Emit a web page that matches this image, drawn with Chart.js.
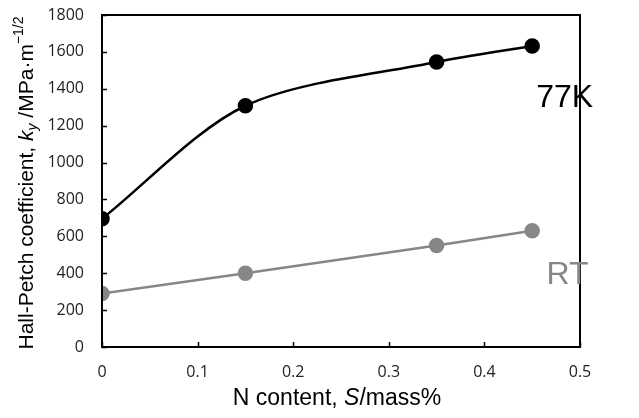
<!DOCTYPE html>
<html>
<head>
<meta charset="utf-8">
<script src="https://cdn.jsdelivr.net/npm/chart.js@4"></script>
<style>
  html, body { margin: 0; padding: 0; background: #fff; }
  #wrap { width: 639px; height: 418px; }
</style>
</head>
<body>
<div id="wrap"><canvas id="hp"></canvas></div>
<script>
// data
var N_CONTENT = [0, 0.15, 0.35, 0.45];
var KY_77K    = [695, 1308, 1545, 1632];
var KY_RT     = [290, 400, 550, 630];
var X_TICKS   = [0, 0.1, 0.2, 0.3, 0.4, 0.5];
var Y_TICKS   = [0, 200, 400, 600, 800, 1000, 1200, 1400, 1600, 1800];

var BLACK = '#000000';
var GREY  = '#878787';
var LABEL_FONT = '"Liberation Sans", Arial, sans-serif';

function pts(xs, ys) {
  return xs.map(function (x, i) { return { x: x, y: ys[i] }; });
}

// frame, inward ticks, axis titles and series labels
var decor = {
  id: 'decor',
  afterDraw: function (c) {
    var ctx = c.ctx, a = c.chartArea;
    var xs = c.scales.x, ys = c.scales.y;
    ctx.save();
    ctx.strokeStyle = BLACK;
    ctx.lineWidth = 2;
    ctx.strokeRect(a.left, a.top, a.right - a.left, a.bottom - a.top);
    ctx.beginPath();
    Y_TICKS.forEach(function (v) {
      var py = Math.round(ys.getPixelForValue(v)) + 0.5;
      ctx.moveTo(a.left, py); ctx.lineTo(a.left + 5, py);
    });
    X_TICKS.forEach(function (v) {
      var px = Math.round(xs.getPixelForValue(v)) + 0.5;
      ctx.moveTo(px, a.bottom); ctx.lineTo(px, a.bottom - 5);
    });
    ctx.lineWidth = 1.5;
    ctx.stroke();

    // x title: N content, S/mass%
    ctx.fillStyle = BLACK;
    ctx.textBaseline = 'middle';
    var xParts = [
      { t: 'N content, ', f: '23px ' + LABEL_FONT },
      { t: 'S', f: 'italic 23px ' + LABEL_FONT },
      { t: '/mass%', f: '23px ' + LABEL_FONT }
    ];
    var w = 0;
    xParts.forEach(function (p) { ctx.font = p.f; w += ctx.measureText(p.t).width; });
    var cx = 337 - w / 2;
    xParts.forEach(function (p) {
      ctx.font = p.f; ctx.textAlign = 'left';
      ctx.fillText(p.t, cx, 399);
      cx += ctx.measureText(p.t).width;
    });

    // y title (rotated)
    ctx.save();
    ctx.translate(27, 183);
    ctx.rotate(-Math.PI / 2);
    var yParts = [
      { t: 'Hall-Petch coefficient, ', f: '21px ' + LABEL_FONT, dy: 0 },
      { t: 'k', f: 'italic 21px ' + LABEL_FONT, dy: 0 },
      { t: 'y', f: 'italic 14px ' + LABEL_FONT, dy: 6 },
      { t: ' /MPa\u00b7m', f: '21px ' + LABEL_FONT, dy: 0 },
      { t: '\u22121/2', f: '14px ' + LABEL_FONT, dy: -8 }
    ];
    w = 0;
    yParts.forEach(function (p) { ctx.font = p.f; w += ctx.measureText(p.t).width; });
    var tx = -w / 2;
    yParts.forEach(function (p) {
      ctx.font = p.f; ctx.textAlign = 'left';
      ctx.fillText(p.t, tx, p.dy);
      tx += ctx.measureText(p.t).width;
    });
    ctx.restore();

    // series labels
    ctx.font = '32px ' + LABEL_FONT;
    ctx.textAlign = 'center';
    ctx.fillStyle = BLACK;
    ctx.fillText('77K', xs.getPixelForValue(0.484), ys.getPixelForValue(1350));
    ctx.fillStyle = GREY;
    ctx.fillText('RT', xs.getPixelForValue(0.487), ys.getPixelForValue(390));
    ctx.restore();
  }
};

new Chart(document.getElementById('hp'), {
  type: 'scatter',
  data: {
    datasets: [
      {
        label: '77K', data: pts(N_CONTENT, KY_77K), showLine: true,
        borderColor: BLACK, backgroundColor: BLACK, borderWidth: 2.5,
        pointRadius: 6.5, pointHoverRadius: 6.5, tension: 0.3
      },
      {
        label: 'RT', data: pts(N_CONTENT, KY_RT), showLine: true,
        borderColor: GREY, backgroundColor: GREY, borderWidth: 2.5,
        pointRadius: 6.5, pointHoverRadius: 6.5, tension: 0
      }
    ]
  },
  options: {
    responsive: true,
    maintainAspectRatio: false,
    animation: false,
    layout: { autoPadding: false, padding: { top: 15, right: 59, left: 0, bottom: 0 } },
    plugins: { legend: { display: false }, tooltip: { enabled: false } },
    scales: {
      x: {
        type: 'linear', min: 0, max: 0.5,
        afterBuildTicks: function (s) { s.ticks = X_TICKS.map(function (v) { return { value: v }; }); },
        afterFit: function (s) { s.height = 71; s.paddingLeft = 0; s.paddingRight = 0; },
        grid: { display: false, drawTicks: false },
        border: { display: false },
        ticks: {
          font: { family: 'Open Sans', size: 16 },
          color: '#222', padding: 16, maxRotation: 0,
          callback: function (v) { return String(v); }
        }
      },
      y: {
        min: 0, max: 1800,
        afterBuildTicks: function (s) { s.ticks = Y_TICKS.map(function (v) { return { value: v }; }); },
        afterFit: function (s) { s.width = 102; s.paddingTop = 0; s.paddingBottom = 0; },
        grid: { display: false, drawTicks: false },
        border: { display: false },
        ticks: {
          font: { family: 'Open Sans', size: 16 },
          color: '#222', padding: 18,
          callback: function (v) { return String(v); }
        }
      }
    }
  },
  plugins: [decor]
});
</script>
</body>
</html>
